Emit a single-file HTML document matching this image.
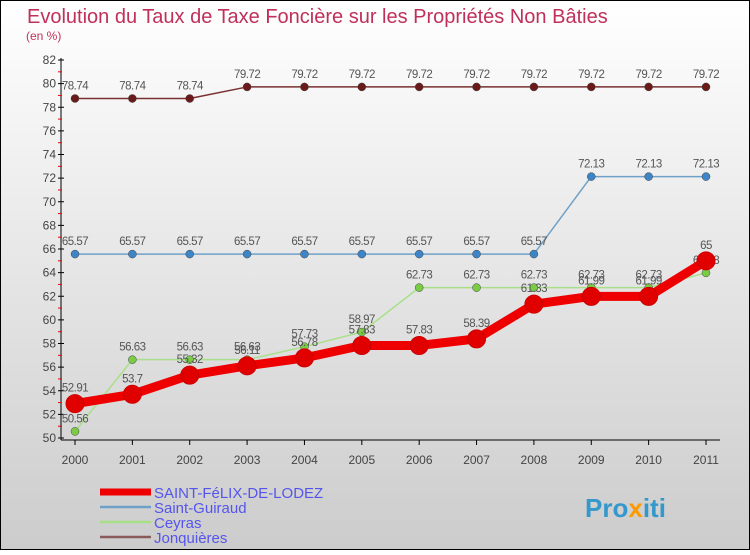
<!DOCTYPE html>
<html><head><meta charset="utf-8"><style>
body{margin:0;width:750px;height:550px;overflow:hidden;font-family:"Liberation Sans",sans-serif}
</style></head><body>
<svg id="chart" width="750" height="550" xmlns="http://www.w3.org/2000/svg">
<defs><linearGradient id="bg" x1="0" y1="0" x2="0" y2="1"><stop offset="0" stop-color="#ffffff"/><stop offset="1" stop-color="#cccccc"/></linearGradient></defs>
<rect x="0.5" y="0.5" width="749" height="549" fill="url(#bg)" stroke="#000"/>
<text x="27" y="23" font-size="20" fill="#c0305a">Evolution du Taux de Taxe Foncière sur les Propriétés Non Bâties</text>
<text x="26" y="40" font-size="12" fill="#c0305a">(en %)</text>
<g id="axes"></g><g id="series"></g><g id="legend"></g>
<text x="585" y="517" font-size="26" font-weight="bold" fill="#3399cc">Pro<tspan fill="#ff9900">x</tspan>iti</text>
</svg>
<script>
const years=[2000,2001,2002,2003,2004,2005,2006,2007,2008,2009,2010,2011];
const yTicks=[50,52,54,56,58,60,62,64,66,68,70,72,74,76,78,80,82];
const stFelix=[52.91,53.7,55.32,56.11,56.78,57.83,57.83,58.39,61.33,61.99,61.99,65];
const stGuiraud=[65.57,65.57,65.57,65.57,65.57,65.57,65.57,65.57,65.57,72.13,72.13,72.13];
const ceyras=[50.56,56.63,56.63,56.63,57.73,58.97,62.73,62.73,62.73,62.73,62.73,63.98];
const jonq=[78.74,78.74,78.74,79.72,79.72,79.72,79.72,79.72,79.72,79.72,79.72,79.72];
const names=["SAINT-FéLIX-DE-LODEZ","Saint-Guiraud","Ceyras","Jonquières"];
const NS="http://www.w3.org/2000/svg";
const xS=i=>75+i*(706-75)/(years.length-1);
const yS=v=>438-(v-50)*(438-60)/32;
function mk(tag,attrs,parent){const e=document.createElementNS(NS,tag);for(const k in attrs)e.setAttribute(k,attrs[k]);parent.appendChild(e);return e;}
const ax=document.getElementById('axes');
let a=mk('line',{x1:61,y1:58,x2:61,y2:440,stroke:'#000'},ax);


a=mk('line',{x1:61,y1:440,x2:720,y2:440,stroke:'#000'},ax);


yTicks.forEach((v,i)=>{
 const y=yS(v);
 mk('line',{x1:58,y1:y,x2:64,y2:y,stroke:'#000'},ax);
 if(i<yTicks.length-1) mk('line',{x1:58,y1:y-11.8,x2:62,y2:y-11.8,stroke:'#e00'},ax);
 const t=mk('text',{x:56,y:y+4,'font-size':12,fill:'#444','text-anchor':'end'},ax);t.textContent=v;
 
 
});
years.forEach((yr,i)=>{
 const x=xS(i);
 mk('line',{x1:x,y1:440,x2:x,y2:445,stroke:'#000'},ax);
 const t=mk('text',{x:x,y:464,'font-size':12,fill:'#444','text-anchor':'middle'},ax);t.textContent=yr;
 
 
});
const sg=document.getElementById('series');
const defs=[[jonq,'#7a3030','#6b1a1a',1.5,4,'jonquieres'],[stGuiraud,'#6fa0c8','#3d85c6',1.5,4,'saint-guiraud'],[ceyras,'#a8e08a','#7acc44',1.5,4,'ceyras'],[stFelix,'#ee0000','#e00000',9,9,'saint-felix']];
defs.forEach(([d,lc,pc,w,r,n])=>{
 const p=mk('polyline',{points:d.map((v,i)=>xS(i)+','+yS(v)).join(' '),fill:'none',stroke:lc,'stroke-width':w,'stroke-linejoin':'round'},sg);
 
 
 d.forEach((v,i)=>{
  const c=mk('circle',{cx:xS(i),cy:yS(v),r:r,fill:pc,stroke:r>5?'#c00':'#444','stroke-width':r>5?1:0.5},sg);
  
  
  const t=mk('text',{x:xS(i),y:yS(v)-(r>5?12:9),'font-size':11.5,fill:'#555','text-anchor':'middle','letter-spacing':'-0.5'},sg);
  t.textContent=v;
  
  
 });
});
const lg=document.getElementById('legend');
const lcols=['#ee0000','#6fa0c8','#a8e08a','#8a5a5a'];
names.forEach((n,i)=>{
 const y=492+i*15;
 const l=mk('line',{x1:100,y1:y,x2:151,y2:y,stroke:lcols[i],'stroke-width':i==0?7:2.5},lg);
 
 
 const t=mk('text',{x:154,y:y+6,'font-size':15,fill:'#5555ee'},lg);t.textContent=n;
 
 
});
</script>
</body></html>
